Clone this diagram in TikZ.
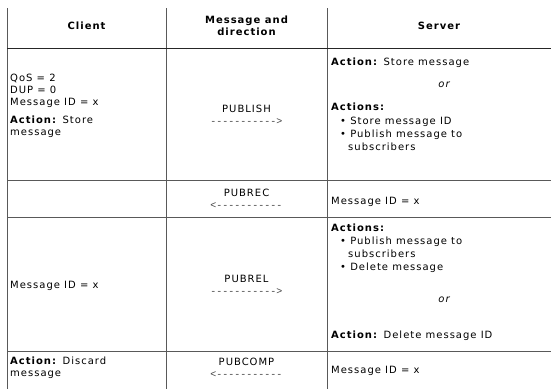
\documentclass[tikz,border=0pt]{standalone}
\usepackage{fontspec}
\setmainfont{DejaVu Sans}[LetterSpace=10]
\newfontfamily\arrowfont{Liberation Mono}
\begin{document}
\begin{tikzpicture}[x=1pt,y=-1pt,
  grid/.style={draw=black!65,line width=1pt},
  headline/.style={draw=black!85,line width=1pt},
  txt/.style={inner sep=0pt,anchor=mid west,font=\fontsize{10}{12}\selectfont},
  ctxt/.style={inner sep=0pt,anchor=mid,font=\fontsize{10}{12}\selectfont},
  hdr/.style={inner sep=0pt,anchor=mid,font=\fontsize{10}{12}\selectfont\bfseries},
  arr/.style={inner sep=0pt,anchor=mid,text=black!75,font=\fontsize{10}{12}\arrowfont},
  ortxt/.style={inner sep=0pt,anchor=mid,font=\fontsize{10}{12}\selectfont\itshape}]
\path[use as bounding box] (0,0) rectangle (551,389);
% grid
\coordinate (v1t) at (7,8);   \coordinate (v1b) at (7,389);
\coordinate (v2t) at (166,8); \coordinate (v2b) at (166,389);
\coordinate (v3t) at (327,8); \coordinate (v3b) at (327,389);
\coordinate (h0l) at (7,48);  \coordinate (h0r) at (551,48);
\coordinate (h1l) at (7,180); \coordinate (h1r) at (551,180);
\coordinate (h2l) at (7,217); \coordinate (h2r) at (551,217);
\coordinate (h3l) at (7,351); \coordinate (h3r) at (551,351);
\draw[grid] (v1t) -- (v1b);
\draw[grid] (v2t) -- (v2b);
\draw[grid] (v3t) -- (v3b);
\draw[headline] (h0l) -- (h0r);
\draw[grid] (h1l) -- (h1r);
\draw[grid] (h2l) -- (h2r);
\draw[grid] (h3l) -- (h3r);
% header
\node[hdr] (hclient) at (86.5,27) {Client};
\node[hdr] (hmsg1) at (246.5,21) {Message and};
\node[hdr] (hmsg2) at (246.5,33) {direction};
\node[hdr] (hserver) at (439,27) {Server};
% row 1
\node[txt] (c1a) at (10,79) {QoS = 2};
\node[txt] (c1b) at (10,91) {DUP = 0};
\node[txt] (c1c) at (10,103) {Message ID = x};
\node[txt] (c1d) at (10,121) {\textbf{Action:} Store};
\node[txt] (c1e) at (10,133) {message};
\node[ctxt] (m1) at (246.5,110) {PUBLISH};
\node[arr] (m1a) at (246.5,122) {----------->};
\node[txt] (s1a) at (331,63) {\textbf{Action:} Store message};
\node[ortxt] (s1or) at (444,85) {or};
\node[txt] (s1b) at (331,108) {\textbf{Actions:}};
\node[txt] (s1c) at (340,122) {\textbullet\ Store message ID};
\node[txt] (s1d) at (340,135) {\textbullet\ Publish message to};
\node[txt] (s1e) at (348,148) {subscribers};
% row 2
\node[ctxt] (m2) at (246.5,194) {PUBREC};
\node[arr] (m2a) at (246.5,206) {<-----------};
\node[txt] (s2) at (331,202) {Message ID = x};
% row 3
\node[txt] (c3) at (10,286) {Message ID = x};
\node[ctxt] (m3) at (246.5,280) {PUBREL};
\node[arr] (m3a) at (246.5,292) {----------->};
\node[txt] (s3a) at (331,229) {\textbf{Actions:}};
\node[txt] (s3b) at (340,242) {\textbullet\ Publish message to};
\node[txt] (s3c) at (348,255) {subscribers};
\node[txt] (s3d) at (340,268) {\textbullet\ Delete message};
\node[ortxt] (s3or) at (444,300) {or};
\node[txt] (s3e) at (331,336) {\textbf{Action:} Delete message ID};
% row 4
\node[txt] (c4a) at (10,362) {\textbf{Action:} Discard};
\node[txt] (c4b) at (10,374) {message};
\node[ctxt] (m4) at (246.5,363) {PUBCOMP};
\node[arr] (m4a) at (246.5,375) {<-----------};
\node[txt] (s4) at (331,371) {Message ID = x};
\end{tikzpicture}
\end{document}
